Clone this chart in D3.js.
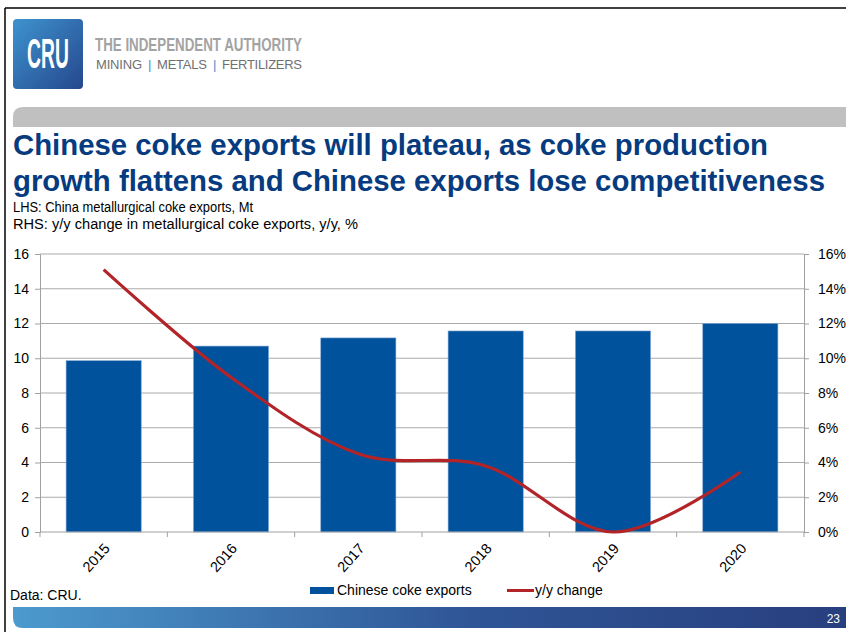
<!DOCTYPE html>
<html>
<head>
<meta charset="utf-8">
<script src="https://cdn.jsdelivr.net/npm/d3@7"></script>
<style>
  body { margin: 0; background: #fff; }
  text { font-family: "Liberation Sans", Arial, sans-serif; }
</style>
</head>
<body>
<div id="chart"></div>
<script>
// data
var years = ["2015", "2016", "2017", "2018", "2019", "2020"];
var cokeExports = [9.86, 10.7, 11.17, 11.57, 11.57, 12.0];   // Mt, LHS
var yoyChange = [15.1, 8.9, 4.5, 3.8, 0.0, 3.45];            // %, RHS
var leftTicks = [0, 2, 4, 6, 8, 10, 12, 14, 16];
var rightTicks = [0, 2, 4, 6, 8, 10, 12, 14, 16];

var W = 846, H = 637;
var margin = { top: 254, right: 42, bottom: 105, left: 40 },
    width = W - margin.left - margin.right,
    height = H - margin.top - margin.bottom;

var svg = d3.select("#chart")
    .append("svg")
    .attr("width", W)
    .attr("height", H);

var defs = svg.append("defs");
var logoGrad = defs.append("linearGradient").attr("id", "logoGrad")
    .attr("x1", "0").attr("y1", "0").attr("x2", "1").attr("y2", "1");
logoGrad.append("stop").attr("offset", "0").attr("stop-color", "#3f93cf");
logoGrad.append("stop").attr("offset", "1").attr("stop-color", "#24478d");
var footGrad = defs.append("linearGradient").attr("id", "footGrad")
    .attr("x1", "0").attr("y1", "0").attr("x2", "1").attr("y2", "0");
footGrad.append("stop").attr("offset", "0").attr("stop-color", "#4c9ace");
footGrad.append("stop").attr("offset", "0.55").attr("stop-color", "#2f5596");
footGrad.append("stop").attr("offset", "1").attr("stop-color", "#283f7e");

// slide frame
svg.append("line").attr("x1", 5).attr("x2", W).attr("y1", 8).attr("y2", 8)
    .style("stroke", "#000").style("stroke-width", 1.5);
svg.append("line").attr("x1", 5).attr("x2", 5).attr("y1", 8).attr("y2", 632)
    .style("stroke", "#000").style("stroke-width", 1.5);

// logo
svg.append("rect").attr("x", 13).attr("y", 19).attr("width", 70).attr("height", 70)
    .attr("rx", 4).style("fill", "url(#logoGrad)");
svg.append("text")
    .attr("transform", "translate(27,68) scale(0.46,1)")
    .style("font-size", "42px").style("font-weight", "bold").style("fill", "#fff")
    .text("CRU");
svg.append("text").attr("x", 95).attr("y", 51)
    .attr("textLength", 207).attr("lengthAdjust", "spacingAndGlyphs")
    .style("font-size", "19px").style("font-weight", "bold").style("fill", "#a3a3a3")
    .text("THE INDEPENDENT AUTHORITY");

// tagline, one piece at a time
var tagParts = [
    { t: "MINING", x: 96, w: 46, c: "#707070" },
    { t: "|", x: 148, w: 2, c: "#4a90c8" },
    { t: "METALS", x: 157, w: 50, c: "#707070" },
    { t: "|", x: 213, w: 2, c: "#4a90c8" },
    { t: "FERTILIZERS", x: 222, w: 80, c: "#707070" }
];
svg.selectAll("text.tag")
    .data(tagParts)
    .enter()
    .append("text")
    .attr("class", "tag")
    .attr("x", function (d) { return d.x; })
    .attr("y", 69)
    .attr("textLength", function (d) { return d.w; })
    .attr("lengthAdjust", "spacing")
    .style("font-size", "13px")
    .style("fill", function (d) { return d.c; })
    .text(function (d) { return d.t; });

// grey header band
svg.append("path")
    .attr("d", "M13,127 L13,117 Q13,107 23,107 L846,107 L846,127 Z")
    .style("fill", "#c0c0c0");

// title + subtitles
svg.append("text").attr("x", 13).attr("y", 155)
    .attr("textLength", 755).attr("lengthAdjust", "spacingAndGlyphs")
    .style("font-size", "30px").style("font-weight", "bold").style("fill", "#063b80")
    .text("Chinese coke exports will plateau, as coke production");
svg.append("text").attr("x", 13).attr("y", 191)
    .attr("textLength", 812).attr("lengthAdjust", "spacingAndGlyphs")
    .style("font-size", "30px").style("font-weight", "bold").style("fill", "#063b80")
    .text("growth flattens and Chinese exports lose competitiveness");
svg.append("text").attr("x", 13).attr("y", 212)
    .attr("textLength", 240).attr("lengthAdjust", "spacingAndGlyphs")
    .style("font-size", "14px").style("fill", "#000")
    .text("LHS: China metallurgical coke exports, Mt");
svg.append("text").attr("x", 13).attr("y", 229)
    .attr("textLength", 345).attr("lengthAdjust", "spacingAndGlyphs")
    .style("font-size", "14px").style("fill", "#000")
    .text("RHS: y/y change in metallurgical coke exports, y/y, %");

var g = svg.append("g")
    .attr("transform", "translate(" + margin.left + "," + margin.top + ")");

// scales
var x = d3.scaleBand()
    .domain(years)
    .range([0, width])
    .paddingInner(0.41)
    .paddingOuter(0.205);
var yL = d3.scaleLinear().domain([0, 16]).range([height, 0]);
var yR = d3.scaleLinear().domain([0, 16]).range([height, 0]);

// gridlines
g.append("g")
    .selectAll("line")
    .data(leftTicks.slice(1))
    .enter()
    .append("line")
    .attr("x1", 0).attr("x2", width)
    .attr("y1", function (d) { return yL(d); })
    .attr("y2", function (d) { return yL(d); })
    .style("stroke", "#ababab").style("stroke-width", 1.2);

// bars
var bars = years.map(function (d, i) { return { year: d, value: cokeExports[i] }; });
g.selectAll("rect.bar")
    .data(bars)
    .enter()
    .append("rect")
    .attr("class", "bar")
    .attr("x", function (d) { return x(d.year); })
    .attr("y", function (d) { return yL(d.value); })
    .attr("width", x.bandwidth())
    .attr("height", function (d) { return height - yL(d.value); })
    .style("fill", "#00529c")
    .style("stroke", "#7fa7d6").style("stroke-width", 0.6);

// axes
var leftAxis = g.append("g")
    .call(d3.axisLeft(yL).tickValues(leftTicks).tickSize(5).tickPadding(6));
var rightAxis = g.append("g")
    .attr("transform", "translate(" + width + ",0)")
    .call(d3.axisRight(yR).tickValues(rightTicks).tickSize(5).tickPadding(9)
        .tickFormat(function (d) { return d + "%"; }));
var step = x.step();
var boundaries = d3.range(years.length + 1).map(function (i) { return i * step; });
var bottom = g.append("g").attr("transform", "translate(0," + height + ")");
bottom.append("line").attr("x1", 0).attr("x2", width).attr("y1", 0).attr("y2", 0)
    .style("stroke", "#a0a0a0");
bottom.selectAll("line.tick")
    .data(boundaries)
    .enter()
    .append("line")
    .attr("class", "tick")
    .attr("x1", function (d) { return d; }).attr("x2", function (d) { return d; })
    .attr("y1", 0).attr("y2", 5)
    .style("stroke", "#a0a0a0");
bottom.selectAll("text")
    .data(years)
    .enter()
    .append("text")
    .attr("text-anchor", "end")
    .attr("transform", function (d) {
        return "translate(" + (x(d) + x.bandwidth() / 2 + 7) + ",17) rotate(-48)";
    })
    .style("font-size", "14.5px").style("fill", "#000")
    .text(function (d) { return d; });

[leftAxis, rightAxis].forEach(function (a) {
    a.select(".domain").style("stroke", "#a0a0a0");
    a.selectAll(".tick line").style("stroke", "#a0a0a0");
    a.selectAll(".tick text").style("font-size", "14px").style("fill", "#000")
        .style("font-family", "'Liberation Sans', Arial, sans-serif");
});

// y/y line
var line = d3.line()
    .x(function (d, i) { return x(years[i]) + x.bandwidth() / 2; })
    .y(function (d) { return yR(d); })
    .curve(d3.curveCardinal.tension(0));
g.append("path")
    .datum(yoyChange)
    .attr("d", line)
    .style("fill", "none")
    .style("stroke", "#b22428")
    .style("stroke-width", 3.2);

// legend
svg.append("rect").attr("x", 310).attr("y", 587).attr("width", 24).attr("height", 7)
    .style("fill", "#00529c");
svg.append("text").attr("x", 337).attr("y", 595)
    .style("font-size", "14px").style("fill", "#000").text("Chinese coke exports");
svg.append("line").attr("x1", 507).attr("x2", 534).attr("y1", 590.5).attr("y2", 590.5)
    .style("stroke", "#b22428").style("stroke-width", 3);
svg.append("text").attr("x", 535).attr("y", 595)
    .style("font-size", "14px").style("fill", "#000").text("y/y change");

// source
svg.append("text").attr("x", 10).attr("y", 600)
    .style("font-size", "14px").style("fill", "#000").text("Data: CRU.");

// footer band
svg.append("path")
    .attr("d", "M13,607 L846,607 L846,628 L23,628 Q13,628 13,618 Z")
    .style("fill", "url(#footGrad)");
svg.append("text").attr("x", 840).attr("y", 623).attr("text-anchor", "end")
    .style("font-size", "12px").style("fill", "#fff").text("23");
</script>
</body>
</html>
